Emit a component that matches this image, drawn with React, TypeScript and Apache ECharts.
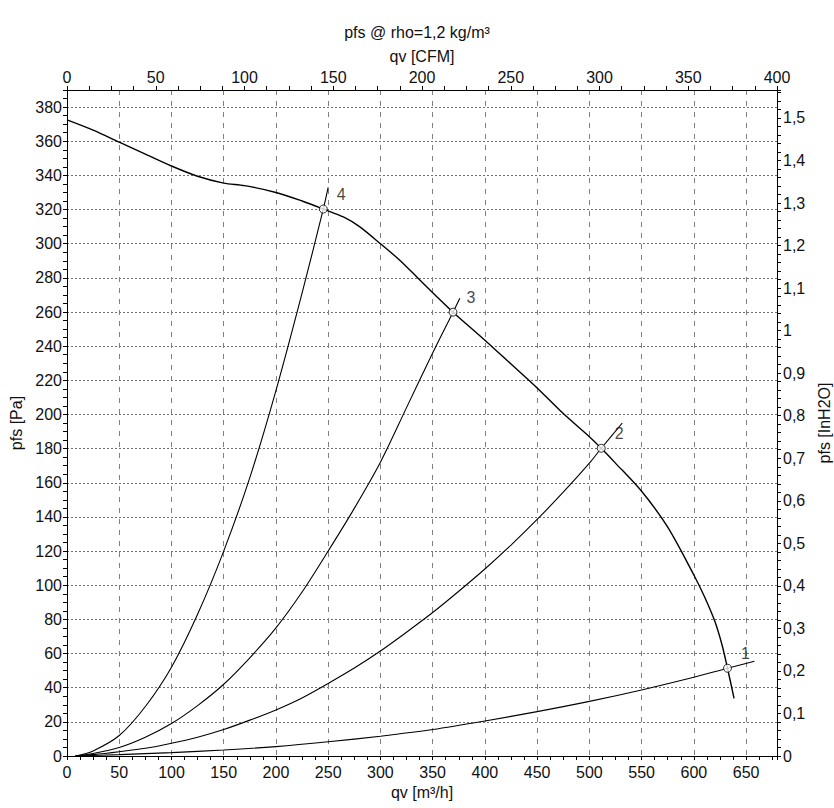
import React, { useEffect, useRef } from "react";
import * as echarts from "echarts";

// ---- Data (qv in m³/h, pfs in Pa) ----
const fanCurve: [number, number][] = [
  [0, 372.5], [25, 366.5], [50, 359.5], [75, 352.5], [100, 345.5], [125, 339.5],
  [150, 335.5], [170, 334], [200, 330], [225, 325], [245.3, 320.3], [265, 315.5],
  [280, 310], [300, 300], [318, 290.6], [336, 279.8], [354, 269], [369.5, 259.9],
  [400, 243.5], [425, 229.5], [450, 215.5], [475, 200.5], [500, 187], [511.4, 180.2],
  [525, 171.5], [550, 155], [575, 134], [600, 106], [610, 93.5], [620, 79],
  [627, 65], [632.2, 51.4], [638.5, 33.8],
];

const system1: [number, number][] = [
  [8, 0], [50, 0.8], [100, 2], [150, 3.5], [200, 5.5], [250, 8.3], [300, 11.6],
  [350, 15.5], [400, 20.5], [450, 26], [500, 32], [550, 38.7], [600, 46.1],
  [632.2, 51.4], [658, 55.5],
];

const system2: [number, number][] = [
  [8, 0], [25, 0.8], [50, 2.5], [75, 4.5], [100, 7.5], [125, 11], [150, 15.5],
  [175, 21], [200, 27], [225, 34], [250, 42.5], [275, 51.5], [300, 61.5],
  [325, 72.5], [350, 84], [375, 96.5], [400, 109.5], [425, 123.5], [450, 138.5],
  [475, 154.5], [500, 171.5], [511.4, 180.2], [531.5, 195],
];

const system3: [number, number][] = [
  [8, 0], [25, 1.5], [50, 5], [75, 11], [100, 19], [125, 29.5], [150, 42],
  [175, 57.5], [200, 75], [225, 96], [250, 120], [275, 145], [300, 172],
  [325, 204], [350, 236], [369.5, 259.9], [376, 268],
];

const system4: [number, number][] = [
  [8, 0], [25, 3], [50, 12], [75, 29], [100, 52], [125, 83], [150, 120],
  [175, 163], [200, 214], [225, 271], [245.3, 320.3], [250, 333],
];

const operatingPoints: [number, number][] = [
  [632.2, 51.4], [511.4, 180.2], [369.5, 259.9], [245.3, 320.3],
];
const pointLabels = ["1", "2", "3", "4"];

const titleText = "pfs @ rho=1,2 kg/m³";
const xBottomName = "qv [m³/h]";
const xTopName = "qv [CFM]";
const yLeftName = "pfs [Pa]";
const yRightName = "pfs [InH2O]";

const X_MAX_CFM = 400;
const M3H_PER_CFM = 1.699;
const X_MAX = X_MAX_CFM * M3H_PER_CFM;
const Y_MAX = 390;
const PA_PER_INH2O = 249.089;

const FONT = "'Liberation Sans', Arial, sans-serif";
const TXT = "#111";

export default function App() {
  const ref = useRef<HTMLDivElement>(null);

  useEffect(() => {
    if (!ref.current) return;
    const chart = echarts.init(ref.current, undefined, { renderer: "svg" });

    const axisLine = { show: true, onZero: false, lineStyle: { color: "#000", width: 1 } };
    const labelStyle = { fontSize: 16, color: TXT, fontFamily: FONT };
    const nameStyle = { fontSize: 16, color: TXT, fontFamily: FONT };
    const tickOnly = {
      axisLine: { show: false, onZero: false },
      axisTick: { show: true, inside: false, length: 4, lineStyle: { color: "#000" } },
      axisLabel: { show: false },
      splitLine: { show: false },
    };

    const lineSeries = (data: [number, number][], width: number) => ({
      type: "line",
      data,
      xAxisIndex: 0,
      yAxisIndex: 0,
      symbol: "none",
      smooth: 0.3,
      lineStyle: { color: "#000", width },
      z: 3,
    });

    chart.setOption({
      animation: false,
      backgroundColor: "#fff",
      textStyle: { fontFamily: FONT },
      title: {
        text: titleText,
        left: "center",
        top: 19,
        textStyle: { fontSize: 16, fontWeight: "normal", color: TXT, fontFamily: FONT },
      },
      grid: {
        left: 67,
        right: 57,
        top: 90,
        bottom: 52,
        containLabel: false,
        outerBoundsMode: "none",
      },
      xAxis: [
        {
          type: "value",
          position: "bottom",
          min: 0,
          max: X_MAX,
          interval: 50,
          axisLine,
          axisTick: { show: false },
          axisLabel: { ...labelStyle, margin: 8, showMaxLabel: false },
          splitLine: { show: true, lineStyle: { color: "#808080", type: [5, 6], width: 1 } },
          name: xBottomName,
          nameLocation: "middle",
          nameGap: 23,
          nameTextStyle: nameStyle,
        },
        {
          type: "value",
          position: "bottom",
          min: 0,
          max: X_MAX,
          interval: 12.5,
          ...tickOnly,
        },
        {
          type: "value",
          position: "top",
          min: 0,
          max: X_MAX_CFM,
          interval: 50,
          axisLine,
          axisTick: { show: true, inside: false, length: 4, lineStyle: { color: "#000" } },
          minorTick: { show: true, splitNumber: 4, length: 4, lineStyle: { color: "#000" } },
          axisLabel: { ...labelStyle, margin: 5 },
          splitLine: { show: false },
          name: xTopName,
          nameLocation: "middle",
          nameGap: 21,
          nameTextStyle: nameStyle,
        },
      ],
      yAxis: [
        {
          type: "value",
          position: "left",
          min: 0,
          max: Y_MAX,
          interval: 20,
          axisLine,
          axisTick: { show: false },
          axisLabel: { ...labelStyle, margin: 5, showMaxLabel: false },
          splitLine: { show: true, lineStyle: { color: "#707070", type: [2, 2], width: 1 } },
          name: yLeftName,
          nameLocation: "middle",
          nameGap: 34,
          nameTextStyle: nameStyle,
        },
        {
          type: "value",
          position: "left",
          min: 0,
          max: Y_MAX,
          interval: 5,
          ...tickOnly,
        },
        {
          type: "value",
          position: "right",
          min: 0,
          max: Y_MAX / PA_PER_INH2O,
          interval: 0.1,
          axisLine,
          axisTick: { show: false },
          axisLabel: {
            ...labelStyle,
            margin: 6,
            showMaxLabel: false,
            formatter: (v: number) => String(Math.round(v * 10) / 10).replace(".", ","),
          },
          splitLine: { show: false },
          name: yRightName,
          nameLocation: "middle",
          nameGap: 38,
          nameTextStyle: nameStyle,
        },
        {
          type: "value",
          position: "right",
          min: 0,
          max: Y_MAX / PA_PER_INH2O,
          interval: 0.02,
          ...tickOnly,
        },
      ],
      series: [
        lineSeries(fanCurve, 1.4),
        lineSeries(system1, 1.1),
        lineSeries(system2, 1.1),
        lineSeries(system3, 1.1),
        lineSeries(system4, 1.1),
        {
          type: "scatter",
          xAxisIndex: 0,
          yAxisIndex: 0,
          symbol: "circle",
          symbolSize: 8,
          itemStyle: { color: "#fff", borderColor: "#000", borderWidth: 1 },
          data: operatingPoints.map((p, i) => ({ name: pointLabels[i], value: p })),
          label: {
            show: true,
            position: "inside",
            offset: [18, -15],
            formatter: (p: any) => p.name,
            fontSize: 16,
            color: TXT,
            fontFamily: FONT,
            textBorderWidth: 0,
            textBorderColor: "transparent",
          },
          z: 5,
        },
      ],
    });

    return () => chart.dispose();
  }, []);

  return (
    <div
      ref={ref}
      style={{ position: "absolute", left: 0, top: 0, width: 834, height: 808, background: "#fff" }}
    />
  );
}
